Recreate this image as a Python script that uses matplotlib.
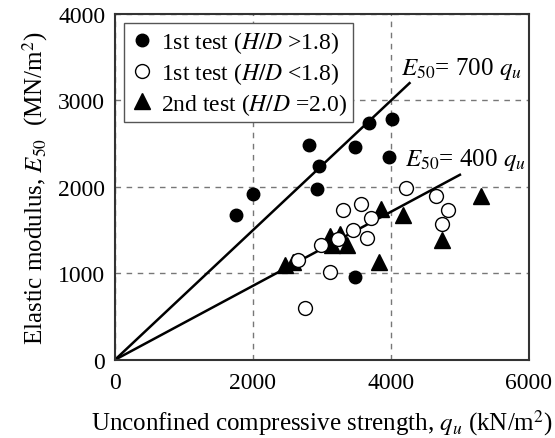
import matplotlib.pyplot as plt

plt.rcParams['font.family'] = ['Liberation Serif', 'DejaVu Serif']
plt.rcParams['mathtext.fontset'] = 'stix'

# 1st test, H/D > 1.8 (filled circles)
qu_a = [1750, 2000, 2810, 2960, 2930, 3480, 3680, 4020, 3970, 3480]
E_a = [1680, 1920, 2480, 2240, 1970, 2460, 2740, 2780, 2340, 960]

# 1st test, H/D < 1.8 (open circles)
qu_b = [2750, 2660, 2990, 3120, 3240, 3310, 3450, 3570, 3660, 3710, 4220, 4660, 4830, 4740]
E_b = [600, 1150, 1330, 1020, 1400, 1730, 1500, 1800, 1410, 1640, 1990, 1890, 1730, 1570]

# 2nd test, H/D = 2.0 (triangles)
qu_c = [2460, 2580, 3120, 3260, 3140, 3360, 3850, 4170, 3830, 4740, 5310]
E_c = [1100, 1130, 1430, 1460, 1330, 1330, 1750, 1670, 1130, 1390, 1900]

# fitted lines
line700_q = [0, 4270]
line700_E = [0, 3200]
line400_q = [0, 5000]
line400_E = [0, 2140]

fig = plt.figure(figsize=(5.55, 4.39), dpi=100)
ax = fig.add_axes([0.207, 0.178, 0.746, 0.788])

ax.plot(line700_q, line700_E, color='black', lw=1.8, zorder=2)
ax.plot(line400_q, line400_E, color='black', lw=1.8, zorder=2)

ax.plot(qu_a, E_a, 'o', color='black', ms=9, label='1st test ($H/D$ >1.8)', zorder=3)
ax.plot(qu_b, E_b, 'o', mfc='white', mec='black', mew=1.0, ms=10,
        label='1st test ($H/D$ <1.8)', zorder=4)
ax.plot(qu_c, E_c, '^', color='black', ms=11, label='2nd test ($H/D$ =2.0)', zorder=3)

ax.text(4150, 3300, '$E_{50}$= 700 $q_u$', fontsize=18)
ax.text(4200, 2250, '$E_{50}$= 400 $q_u$', fontsize=18)

ax.set_xlim(0, 6000)
ax.set_ylim(0, 4000)
ax.set_xticks([0, 2000, 4000, 6000])
ax.set_yticks([0, 1000, 2000, 3000, 4000])
ax.tick_params(labelsize=17, direction='in', length=0, pad=7)
ax.tick_params(axis='x', pad=9)
ax.grid(True, linestyle=(0, (4, 4)), color='#777777', lw=1.0)
for s in ax.spines.values():
    s.set_linewidth(1.5)
    s.set_color('#333333')

ax.set_xlabel('Unconfined compressive strength, $q_u$ (kN/m$^2$)', fontsize=18, labelpad=10)
ax.set_ylabel('Elastic modulus, $E_{50}$  (MN/m$^2$)', fontsize=18, labelpad=6)

leg = ax.legend(loc='upper left', fontsize=17, fancybox=False, framealpha=1,
                edgecolor='#555555', handletextpad=0.3, borderpad=0.25,
                labelspacing=0.2, handlelength=1.0, borderaxespad=0.4)
leg.get_frame().set_linewidth(1.0)

fig.savefig('out.png', dpi=100)
